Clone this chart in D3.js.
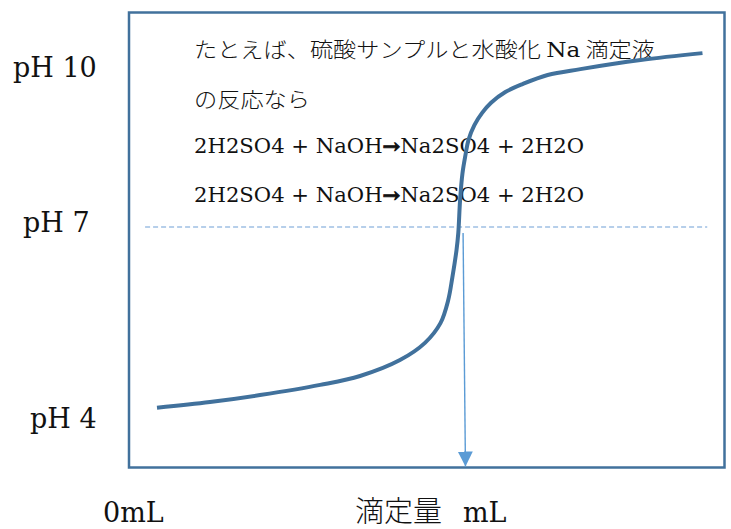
<!DOCTYPE html>
<html>
<head>
<meta charset="utf-8">
<script src="https://cdn.jsdelivr.net/npm/d3@7"></script>
<style>
  html, body { margin: 0; padding: 0; background: #fff; }
  svg { display: block; }
</style>
</head>
<body>
<div id="chart"></div>
<script>
// ---- data ----
const phTicks = [10, 7, 4];
const phTickLabels = ["pH 10", "pH 7", "pH 4"];
const titrantML = [4.7, 13.6, 22.0, 32.1, 38.8, 45.5, 49.7, 52.3, 53.6, 54.3, 55.0, 55.3, 55.6, 56.0, 56.5, 57.0, 58.0, 59.3, 60.8, 63.2, 66.1, 70.3, 75.8, 85.9, 96.3];
const phValues  = [4.16, 4.25, 4.36, 4.52, 4.66, 4.91, 5.18, 5.49, 5.85, 6.21, 6.64, 6.91, 7.51, 8.01, 8.35, 8.63, 8.91, 9.14, 9.33, 9.53, 9.68, 9.85, 9.96, 10.13, 10.26];
const neutralPH = 7;
const neutralLineML = [2.7, 97.1];
const equivalenceML = [56.1, 56.5];
const xStartLabel = "0mL";
const xAxisTitle = ["滴定量", "mL"];
const noteLines = [
  ["たとえば、硫酸サンプルと水酸化 ", "Na", " 滴定液"],
  ["の反応なら"],
  ["2H2SO4 + NaOH", "→", "Na2SO4 + 2H2O"],
  ["2H2SO4 + NaOH", "→", "Na2SO4 + 2H2O"]
];

// ---- layout ----
const W = 731, H = 529;
const frame = { left: 129, top: 12.5, right: 724.5, bottom: 467.5 };
const blue = "#41719c";
const lightBlue = "#5b9bd5";
const serif = "'DejaVu Serif', 'Liberation Serif', serif";
const cjk = "'Noto Sans CJK JP', 'Noto Sans CJK SC', sans-serif";

const svg = d3.select("#chart").append("svg")
  .attr("width", W).attr("height", H)
  .attr("viewBox", `0 0 ${W} ${H}`);

const x = d3.scaleLinear().domain([0, 100]).range([frame.left, frame.right]);
const y = d3.scaleLinear().domain([4, 7, 10]).range([418, 227, 67]);

// frame
svg.append("rect")
  .attr("x", frame.left).attr("y", frame.top)
  .attr("width", frame.right - frame.left).attr("height", frame.bottom - frame.top)
  .attr("fill", "none").attr("stroke", blue).attr("stroke-width", 2.5);

// neutral dashed line
svg.append("line")
  .attr("x1", x(neutralLineML[0])).attr("x2", x(neutralLineML[1]))
  .attr("y1", y(neutralPH)).attr("y2", y(neutralPH))
  .attr("stroke", "#6f9fd6").attr("stroke-width", 1.2)
  .attr("stroke-dasharray", "5,3");

// equivalence arrow
const defs = svg.append("defs");
defs.append("marker")
  .attr("id", "arrowhead")
  .attr("viewBox", "0 0 10 10")
  .attr("refX", 10).attr("refY", 5)
  .attr("markerWidth", 15).attr("markerHeight", 15)
  .attr("markerUnits", "userSpaceOnUse")
  .attr("orient", "auto")
  .append("path").attr("d", "M0,0 L10,5 L0,10 Z").attr("fill", lightBlue);

svg.append("line")
  .attr("x1", x(equivalenceML[0])).attr("y1", y(neutralPH) + 6)
  .attr("x2", x(equivalenceML[1])).attr("y2", frame.bottom - 1)
  .attr("stroke", lightBlue).attr("stroke-width", 1.4)
  .attr("marker-end", "url(#arrowhead)");

// notes text
const noteBaselines = [57, 107, 153, 202];
const noteWidths = [461, 116, 390, 390];
noteLines.forEach((parts, i) => {
  const t = svg.append("text")
    .attr("x", 194).attr("y", noteBaselines[i])
    .attr("fill", "#111")
    .attr("textLength", noteWidths[i])
    .attr("lengthAdjust", "spacingAndGlyphs");
  if (i < 2) {
    parts.forEach(p => {
      t.append("tspan")
        .attr("font-family", p === "Na" ? serif : cjk)
        .attr("font-size", 21)
        .attr("font-weight", 300)
        .text(p);
    });
  } else {
    t.attr("font-family", serif).attr("font-size", 20);
    parts.forEach(p => {
      const s = t.append("tspan").text(p);
      if (p === "→") {
        s.attr("font-weight", "bold").attr("stroke", "#111").attr("stroke-width", 0.9);
      }
    });
  }
});

// titration curve
const pts = titrantML.map((v, i) => [v, phValues[i]]);
const line = d3.line()
  .x(d => x(d[0])).y(d => y(d[1]))
  .curve(d3.curveCatmullRom.alpha(0.5));
svg.append("path")
  .datum(pts)
  .attr("d", line)
  .attr("fill", "none")
  .attr("stroke", blue)
  .attr("stroke-width", 4)
  .attr("stroke-linecap", "butt");

// pH labels
const labelX = [13, 23, 30];
const labelDy = [10, 5, 10];
phTicks.forEach((v, i) => {
  svg.append("text")
    .attr("x", labelX[i]).attr("y", y(v) + labelDy[i])
    .attr("font-family", serif).attr("font-size", 27)
    .attr("fill", "#111")
    .text(phTickLabels[i]);
});

// x labels
svg.append("text")
  .attr("x", 103).attr("y", 522)
  .attr("font-family", serif).attr("font-size", 27)
  .attr("fill", "#111")
  .text(xStartLabel);

const xt = svg.append("text").attr("y", 522).attr("fill", "#111");
xt.append("tspan").attr("x", 355)
  .attr("font-family", cjk).attr("font-size", 29).attr("font-weight", 300)
  .text(xAxisTitle[0]);
xt.append("tspan").attr("x", 463)
  .attr("font-family", serif).attr("font-size", 27)
  .text(xAxisTitle[1]);
</script>
</body>
</html>
